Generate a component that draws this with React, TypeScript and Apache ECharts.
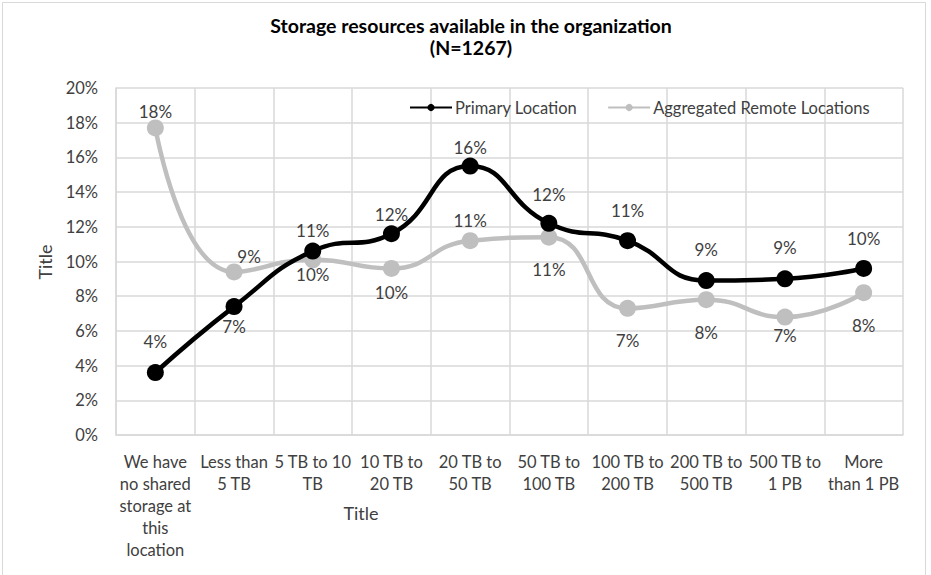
import React, { useEffect, useRef } from "react";
import * as echarts from "echarts";

const categories = [
  "We have no shared storage at this location",
  "Less than 5 TB",
  "5 TB to 10 TB",
  "10 TB to 20 TB",
  "20 TB to 50 TB",
  "50 TB to 100 TB",
  "100 TB to 200 TB",
  "200 TB to 500 TB",
  "500 TB to 1 PB",
  "More than 1 PB",
];
const tickLabels = [
  "We have\nno shared\nstorage at\nthis\nlocation",
  "Less than\n5 TB",
  "5 TB to 10\nTB",
  "10 TB to\n20 TB",
  "20 TB to\n50 TB",
  "50 TB to\n100 TB",
  "100 TB to\n200 TB",
  "200 TB to\n500 TB",
  "500 TB to\n1 PB",
  "More\nthan 1 PB",
];
const primaryLocation = [3.6, 7.4, 10.6, 11.6, 15.5, 12.2, 11.2, 8.9, 9.0, 9.6];
const remoteLocations = [17.7, 9.4, 10.1, 9.6, 11.2, 11.4, 7.3, 7.8, 6.8, 8.2];
const yTicks = [0, 2, 4, 6, 8, 10, 12, 14, 16, 18, 20];

const seriesNames = ["Primary Location", "Aggregated Remote Locations"];
const titleText = "Storage resources available in the organization\n(N=1267)";

// label placement (style)
const primaryLabelOffsets = [
  [0, -31], [0, 20], [0, -21], [0, -19], [0, -19], [0, -29], [0, -30], [0, -31], [0, -31], [0, -30],
];
const remoteLabelOffsets = [
  [0, -16], [15, -15], [0, 15], [0, 24], [0, -20], [0, 32], [0, 32], [0, 33], [0, 18], [0, 33],
];

const FONT = "Lato, 'Open Sans', sans-serif";

export default function App() {
  const ref = useRef<HTMLDivElement>(null);
  useEffect(() => {
    document.body.style.margin = "0";
    const chart = echarts.init(ref.current!, null, { renderer: "svg" });
    const mk = (vals: number[], offs: number[][]) =>
      vals.map((v, i) => ({ value: v, label: { offset: offs[i] } }));
    chart.setOption({
      animation: false,
      backgroundColor: "#ffffff",
      textStyle: { fontFamily: FONT },
      title: {
        text: titleText,
        left: 466,
        textAlign: "center",
        top: 9,
        textStyle: { fontFamily: FONT, fontSize: 19.5, fontWeight: "bold", color: "#000", lineHeight: 22 },
      },
      legend: {
        left: 409,
        top: 99,
        padding: 0,
        itemWidth: 42,
        itemHeight: 9,
        itemGap: 30,
        textStyle: { fontFamily: FONT, fontSize: 16.5, color: "#404040", padding: [0, 0, 0, -2] },
        data: seriesNames,
      },
      grid: { left: 116, right: 28, top: 88, bottom: 140, containLabel: false },
      xAxis: {
        type: "category",
        data: categories,
        boundaryGap: true,
        axisLine: { show: true, lineStyle: { color: "#D9D9D9", width: 1.5 } },
        axisTick: { show: false },
        splitLine: { show: true, lineStyle: { color: "#D9D9D9", width: 1.5 } },
        axisLabel: {
          interval: 0,
          margin: 16,
          fontFamily: FONT,
          fontSize: 16.5,
          lineHeight: 22,
          color: "#404040",
          formatter: (_v: string, i: number) => tickLabels[i],
        },
      },
      yAxis: {
        type: "value",
        min: 0,
        max: 20,
        interval: 2,
        axisLine: { show: true, lineStyle: { color: "#D9D9D9", width: 1.5 } },
        axisTick: { show: false },
        splitLine: { show: true, lineStyle: { color: "#D9D9D9", width: 1.5 } },
        axisLabel: {
          margin: 18,
          fontFamily: FONT,
          fontSize: 16.5,
          color: "#404040",
          formatter: (v: number) => (yTicks.includes(v) ? v + "%" : ""),
        },
      },
      graphic: [
        {
          type: "rect",
          shape: { x: 2.5, y: 2.5, width: 923, height: 580 },
          style: { fill: "none", stroke: "#D9D9D9", lineWidth: 1 },
          silent: true,
        },
        {
          type: "text",
          x: 45,
          y: 262,
          rotation: Math.PI / 2,
          style: { text: "Title", fontFamily: FONT, fontSize: 18, fill: "#404040", align: "center", verticalAlign: "middle" },
        },
        {
          type: "text",
          x: 361,
          y: 513,
          style: { text: "Title", fontFamily: FONT, fontSize: 18, fill: "#404040", align: "center", verticalAlign: "middle" },
        },
      ],
      series: [
        {
          name: seriesNames[1],
          type: "line",
          smooth: 0.5,
          data: mk(remoteLocations, remoteLabelOffsets),
          symbol: "circle",
          symbolSize: 17,
          lineStyle: { color: "#BFBFBF", width: 4.5 },
          itemStyle: { color: "#BFBFBF" },
          label: {
            show: true,
            position: "inside",
            fontFamily: FONT,
            fontSize: 17,
            color: "#404040",
            formatter: (p: any) => Math.round(p.value) + "%",
          },
          z: 2,
        },
        {
          name: seriesNames[0],
          type: "line",
          smooth: 0.5,
          data: mk(primaryLocation, primaryLabelOffsets),
          symbol: "circle",
          symbolSize: 17,
          lineStyle: { color: "#000000", width: 4.5 },
          itemStyle: { color: "#000000" },
          label: {
            show: true,
            position: "inside",
            fontFamily: FONT,
            fontSize: 17,
            color: "#404040",
            formatter: (p: any) => Math.round(p.value) + "%",
          },
          z: 3,
        },
      ],
    });
    return () => chart.dispose();
  }, []);
  return <div ref={ref} style={{ width: 931, height: 575 }} />;
}
